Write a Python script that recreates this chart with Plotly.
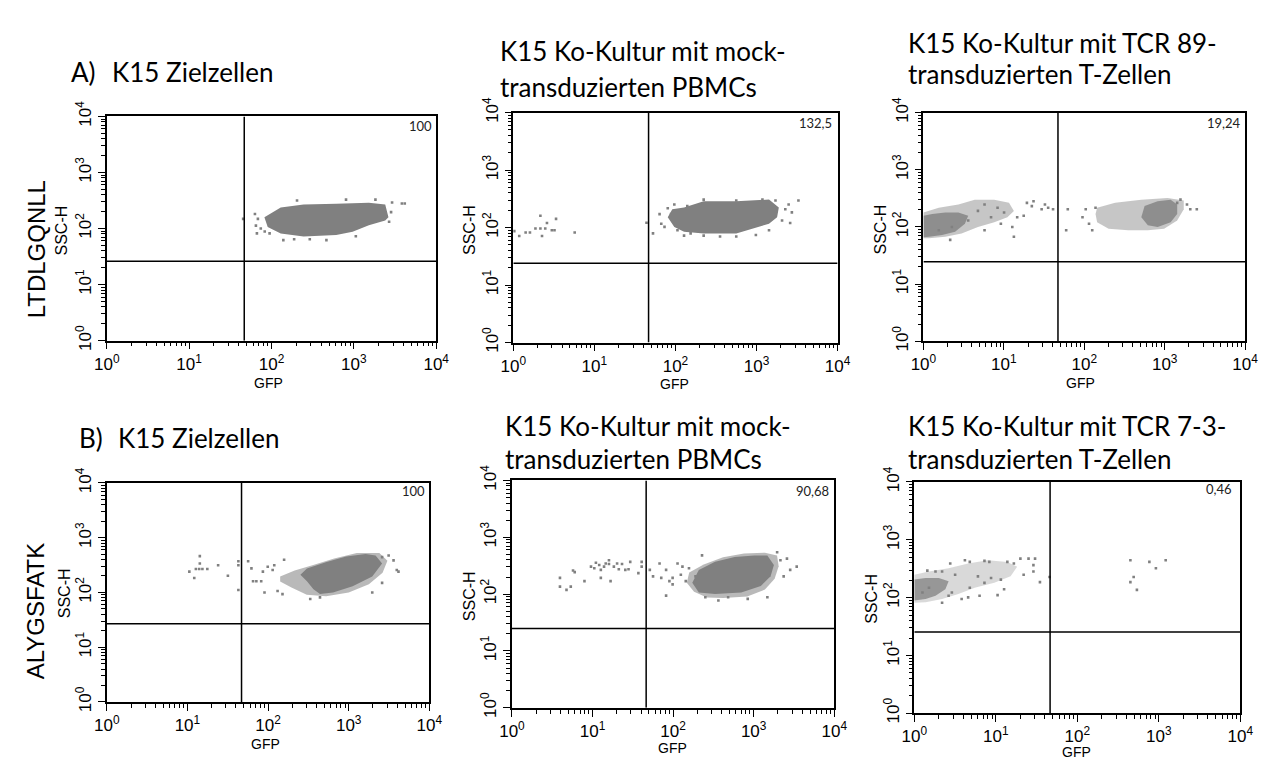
import plotly.graph_objects as go

W, H = 1279, 769

# ---------------- data (log10 of GFP and SSC-H values) ----------------
# Panel 1: LTDLGQNLL, K15 Zielzellen
p1_core_gfp = [2.112, 2.390, 2.786, 3.182, 3.381, 3.420, 3.381, 3.182, 2.985, 2.786, 2.390, 2.112, 1.954, 1.914]
p1_core_ssc = [2.374, 2.431, 2.443, 2.460, 2.431, 2.202, 2.143, 2.057, 1.943, 1.884, 1.857, 1.914, 2.029, 2.202]
p1_dot_gfp = [1.656, 1.799, 1.835, 1.811, 1.870, 1.823, 1.918, 1.977, 2.275, 2.465, 2.667, 2.144, 3.464, 3.583, 3.618, 3.452, 3.428, 2.310, 2.905, 3.262, 3.024]
p1_dot_ssc = [2.172, 2.259, 2.172, 2.052, 2.000, 1.914, 1.948, 1.914, 1.810, 1.810, 1.793, 1.793, 2.466, 2.448, 2.448, 2.293, 2.121, 2.500, 2.517, 2.517, 1.862]

# Panel 2: LTDLGQNLL, mock PBMCs
p2_core_gfp = [2.106, 2.348, 2.750, 3.154, 3.275, 3.254, 3.154, 2.750, 2.348, 2.106, 1.986, 1.905, 1.961]
p2_core_ssc = [2.348, 2.459, 2.459, 2.487, 2.348, 2.180, 2.067, 1.899, 1.899, 1.928, 2.012, 2.180, 2.319]
p2_dot_gfp = [0.012, 0.073, 0.152, 0.205, 0.273, 0.334, 0.415, 0.527, 0.334, 0.394, 0.354, 0.475, 0.508, 0.757,
              1.643, 1.723,
              1.804, 1.905, 1.825, 1.865, 1.946, 1.986, 2.025, 2.106, 2.187, 2.348, 2.550, 2.750, 2.992, 3.154,
              3.315, 3.355, 3.396, 3.436, 3.517, 3.415, 3.234, 3.073, 2.750, 2.348, 2.146]
p2_dot_ssc = [1.938, 1.854, 1.916, 1.916, 1.983, 2.207, 2.079, 2.151, 1.983, 1.983, 1.854, 1.955, 1.955, 1.916,
              2.084, 1.899,
              2.235, 2.336, 2.067, 2.012, 2.235, 2.403, 1.955, 1.860, 1.899, 1.860, 1.844, 1.844, 1.871, 1.955,
              2.123, 2.319, 2.403, 2.264, 2.471, 2.079, 2.471, 2.487, 2.471, 2.487, 2.375]

# Panel 3: LTDLGQNLL, TCR 89
p3_medl_gfp = [0.0, 0.191, 0.435, 0.638, 0.881, 1.064, 1.125, 1.044, 0.881, 0.678, 0.475, 0.272, 0.069, 0.0]
p3_medl_ssc = [2.253, 2.337, 2.394, 2.478, 2.478, 2.422, 2.281, 2.169, 2.084, 2.000, 1.887, 1.830, 1.802, 1.802]
p3_medr_gfp = [2.160, 2.384, 2.709, 3.034, 3.237, 3.237, 3.155, 2.993, 2.790, 2.546, 2.302, 2.160, 2.140]
p3_medr_ssc = [2.337, 2.422, 2.478, 2.506, 2.461, 2.309, 2.112, 1.971, 1.943, 1.943, 1.971, 2.084, 2.225]
p3_corel_gfp = [0.0, 0.110, 0.272, 0.435, 0.557, 0.516, 0.394, 0.232, 0.069, 0.0]
p3_corel_ssc = [2.197, 2.225, 2.253, 2.253, 2.197, 2.056, 1.915, 1.859, 1.830, 1.819]
p3_corer_gfp = [2.750, 2.912, 3.074, 3.155, 3.155, 3.074, 2.912, 2.790, 2.709]
p3_corer_ssc = [2.365, 2.450, 2.478, 2.394, 2.225, 2.084, 2.000, 2.028, 2.169]
p3_dot_gfp = [1.166, 1.247, 1.287, 1.348, 1.369, 1.470, 1.511, 1.551, 1.612, 1.105, 1.125, 0.760, 0.963, 0.333,
              0.760, 0.922, 1.003, 0.557, 0.841, 0.678, 0.354, 0.191,
              1.795, 1.775, 1.978, 2.018, 2.059, 2.140, 2.099, 3.277, 3.318, 3.399, 3.155, 3.196]
p3_dot_ssc = [2.169, 2.197, 2.422, 2.365, 2.450, 2.309, 2.394, 2.337, 2.309, 2.000, 1.830, 1.943, 2.056, 1.774,
              2.394, 2.337, 2.253, 2.112, 2.169, 2.281, 2.000, 1.943,
              2.309, 1.943, 2.169, 2.309, 2.056, 2.337, 1.943, 2.394, 2.309, 2.309, 2.422, 2.478]

# Panel 4: ALYGSFATK, K15 Zielzellen
p4_med_gfp = [2.150, 2.330, 2.560, 2.820, 3.100, 3.380, 3.480, 3.420, 3.250, 3.000, 2.720, 2.480, 2.290, 2.150]
p4_med_ssc = [2.290, 2.400, 2.500, 2.620, 2.720, 2.720, 2.580, 2.360, 2.150, 2.000, 1.930, 1.960, 2.090, 2.200]
p4_core_gfp = [2.482, 2.725, 2.968, 3.211, 3.333, 3.414, 3.292, 3.049, 2.806, 2.644, 2.563, 2.482, 2.401]
p4_core_ssc = [2.440, 2.557, 2.657, 2.704, 2.675, 2.528, 2.293, 2.116, 1.999, 1.970, 2.058, 2.205, 2.322]
p4_dot_gfp = [1.154, 1.154, 1.105, 1.146, 1.186, 1.247, 1.024, 1.085, 1.381, 1.502,
              1.632, 1.632, 1.632, 1.753, 1.794, 1.814, 1.855, 1.915, 1.936, 1.996,
              2.057, 2.077, 2.199, 1.956, 2.118, 2.179, 3.414, 3.495, 3.556, 3.596,
              3.414, 3.292, 2.523, 2.644, 3.617]
p4_dot_ssc = [2.663, 2.528, 2.428, 2.428, 2.428, 2.428, 2.381, 2.264, 2.498, 2.305,
              2.569, 2.498, 2.046, 2.569, 2.440, 2.205, 2.205, 2.205, 2.381, 2.469,
              2.410, 2.498, 2.598, 1.999, 2.028, 1.970, 2.645, 2.675, 2.586, 2.410,
              2.175, 1.999, 1.881, 1.911, 2.381]

# Panel 5: ALYGSFATK, mock PBMCs
p5_med_gfp = [2.200, 2.380, 2.620, 2.880, 3.140, 3.290, 3.310, 3.260, 3.140, 2.920, 2.620, 2.420, 2.260, 2.170]
p5_med_ssc = [2.380, 2.520, 2.650, 2.715, 2.730, 2.680, 2.490, 2.270, 2.080, 1.960, 1.930, 1.940, 2.040, 2.200]
p5_core_gfp = [2.319, 2.521, 2.764, 3.008, 3.170, 3.251, 3.210, 3.089, 2.846, 2.521, 2.319, 2.238]
p5_core_ssc = [2.426, 2.568, 2.653, 2.681, 2.681, 2.512, 2.313, 2.143, 2.030, 2.001, 2.030, 2.200]
p5_dot_gfp = [0.596, 0.596, 0.677, 0.730, 0.758, 0.779, 0.900, 0.981, 1.022, 1.042,
              1.083, 1.103, 1.103, 1.143, 1.164, 1.204, 1.204, 1.224, 1.265, 1.305,
              1.326, 1.366, 1.407, 1.447, 1.468, 1.569, 1.610, 1.610, 1.711, 1.751,
              1.832, 1.853, 1.913, 1.913, 1.954, 1.994, 1.994, 2.055, 2.096, 2.116,
              2.157, 2.197, 2.278, 2.359, 2.400, 2.562, 2.683, 2.926, 3.170, 3.332,
              3.413, 3.453, 3.534, 3.372, 3.291]
p5_dot_ssc = [2.285, 2.132, 2.075, 2.132, 2.415, 2.387, 2.228, 2.483, 2.455, 2.551,
              2.512, 2.426, 2.285, 2.483, 2.540, 2.596, 2.529, 2.228, 2.483, 2.540,
              2.438, 2.529, 2.426, 2.438, 2.568, 2.370, 2.568, 2.483, 2.426, 2.313,
              2.540, 2.285, 2.426, 1.973, 2.228, 2.171, 2.285, 2.540, 2.341, 2.483,
              2.228, 2.455, 2.313, 2.681, 1.945, 1.888, 1.945, 1.916, 1.945, 2.596,
              2.625, 2.426, 2.483, 2.313, 2.738]

# Panel 6: ALYGSFATK, TCR 7-3
p6_med_gfp = [0.0, 0.180, 0.421, 0.661, 0.901, 1.142, 1.262, 1.182, 0.982, 0.741, 0.541, 0.341, 0.140, 0.0]
p6_med_ssc = [2.395, 2.451, 2.507, 2.590, 2.646, 2.618, 2.535, 2.368, 2.256, 2.172, 2.061, 1.977, 1.922, 1.911]
p6_core_gfp = [0.0, 0.140, 0.300, 0.421, 0.381, 0.260, 0.140, 0.0]
p6_core_ssc = [2.312, 2.340, 2.340, 2.284, 2.145, 2.033, 1.977, 1.949]
p6_dot_gfp = [0.160, 0.260, 0.341, 0.441, 0.621, 0.681, 0.861, 0.921, 1.142, 1.222,
              1.302, 1.402, 1.482, 1.462, 1.462, 1.342, 1.542, 1.660, 1.102, 1.022,
              0.801, 0.661, 0.581, 0.341, 0.681, 0.861, 0.942, 1.062, 0.421, 0.461,
              0.501, 0.781, 0.180, 0.100,
              2.652, 2.885, 3.085, 2.965, 2.692, 2.652, 2.732]
p6_dot_ssc = [2.468, 2.451, 2.451, 2.590, 2.646, 2.618, 2.635, 2.618, 2.618, 2.590,
              2.674, 2.674, 2.674, 2.563, 2.451, 2.395, 2.268, 2.356, 2.145, 2.044,
              2.033, 2.005, 1.977, 1.911, 2.172, 2.256, 2.340, 2.312, 2.033, 2.089,
              2.395, 2.368, 2.172, 2.089,
              2.646, 2.618, 2.646, 2.507, 2.356, 2.268, 2.134]

# quadrant gates (GFP, SSC-H) and upper-right quadrant values
gate_gfp = [46.7, 46.6, 47.1, 46.9, 46.3, 46.4]
gate_ssc = [26.0, 23.9, 24.7, 26.9, 24.8, 25.4]
quad_labels = ["100", "132,5", "19,24", "100", "90,68", "0,46"]

tick_vals = [1, 10, 100, 1000, 10000]
tick_text = ["10<sup>0</sup>", "10<sup>1</sup>", "10<sup>2</sup>", "10<sup>3</sup>", "10<sup>4</sup>"]
row_labels = ["LTDLGQNLL", "ALYGSFATK"]

# ---------------- layout helpers ----------------
def PX(px):
    return px / W

def PY(py):
    return 1 - py / H

GRAY = "#808080"
panel_box = [(95.7, 432, 104, 336), (510.7, 841.7, 100, 338), (929.3, 1257.7, 100, 336.7),
             (95.7, 425, 483.3, 710), (509.3, 838.3, 480.7, 716), (920, 1252.7, 482.3, 721.7)]

panels = [
    dict(fills=[(p1_core_gfp, p1_core_ssc, GRAY)], dots=(p1_dot_gfp, p1_dot_ssc)),
    dict(fills=[(p2_core_gfp, p2_core_ssc, GRAY)], dots=(p2_dot_gfp, p2_dot_ssc)),
    dict(fills=[(p3_medl_gfp, p3_medl_ssc, "rgba(128,128,128,0.45)"),
                (p3_medr_gfp, p3_medr_ssc, "rgba(128,128,128,0.45)"),
                (p3_corel_gfp, p3_corel_ssc, "rgba(128,128,128,0.8)"),
                (p3_corer_gfp, p3_corer_ssc, "rgba(128,128,128,0.8)")],
         dots=(p3_dot_gfp, p3_dot_ssc)),
    dict(fills=[(p4_med_gfp, p4_med_ssc, "rgba(128,128,128,0.55)"),
                (p4_core_gfp, p4_core_ssc, GRAY)], dots=(p4_dot_gfp, p4_dot_ssc)),
    dict(fills=[(p5_med_gfp, p5_med_ssc, "rgba(128,128,128,0.55)"),
                (p5_core_gfp, p5_core_ssc, GRAY)], dots=(p5_dot_gfp, p5_dot_ssc)),
    dict(fills=[(p6_med_gfp, p6_med_ssc, "rgba(128,128,128,0.3)"),
                (p6_core_gfp, p6_core_ssc, "rgba(128,128,128,0.75)")], dots=(p6_dot_gfp, p6_dot_ssc)),
]

minor_vals = [k * 10 ** d for d in range(4) for k in range(2, 10)]
AXFONT = "Liberation Sans, Arial, sans-serif"
TFONT = "Lato, Open Sans, sans-serif"
TICKSIZE = 17

fig = go.Figure()
layout = {}
for i, (x0, x1, y0, y1) in enumerate(panel_box):
    n = i + 1
    xs = "" if n == 1 else str(n)
    xref, yref = "x" + xs, "y" + xs
    common = dict(type="log", range=[0, 4], showline=True, linecolor="black", linewidth=1.5,
                  mirror=True, ticks="outside", ticklen=7, tickwidth=1, tickcolor="black",
                  tickmode="array", tickvals=tick_vals, ticktext=tick_text,
                  tickfont=dict(family=AXFONT, size=TICKSIZE, color="black"),
                  showgrid=False, zeroline=False,
                  minor=dict(tickmode="array", tickvals=minor_vals, ticks="outside", ticklen=4,
                             tickwidth=1, tickcolor="black", showgrid=False))
    layout["xaxis" + xs] = dict(common, domain=[PX(x0), PX(x1)], anchor=yref)
    layout["yaxis" + xs] = dict(common, domain=[PY(y1), PY(y0)], anchor=xref, tickangle=-90)

    p = panels[i]
    for fx, fy, col in p["fills"]:
        fig.add_trace(go.Scatter(x=[10 ** v for v in fx], y=[10 ** v for v in fy], mode="lines",
                                 fill="toself", fillcolor=col, line=dict(width=0),
                                 hoverinfo="skip", showlegend=False, xaxis=xref, yaxis=yref))
    dx, dy = p["dots"]
    fig.add_trace(go.Scatter(x=[10 ** v for v in dx], y=[10 ** v for v in dy], mode="markers",
                             marker=dict(symbol="square", size=2.6, color=GRAY, line=dict(width=0)),
                             hoverinfo="skip", showlegend=False, xaxis=xref, yaxis=yref))
    fig.add_trace(go.Scatter(x=[gate_gfp[i], gate_gfp[i]], y=[1, 10000], mode="lines",
                             line=dict(color="black", width=1.5), hoverinfo="skip",
                             showlegend=False, xaxis=xref, yaxis=yref))
    fig.add_trace(go.Scatter(x=[1, 10000], y=[gate_ssc[i], gate_ssc[i]], mode="lines",
                             line=dict(color="black", width=1.5), hoverinfo="skip",
                             showlegend=False, xaxis=xref, yaxis=yref))

ann = []

def add_text(text, px, py, size, family, xanchor="center", angle=0, color="black"):
    ann.append(dict(text=text, x=PX(px), y=PY(py), xref="paper", yref="paper", showarrow=False,
                    xanchor=xanchor, yanchor="middle", textangle=angle,
                    font=dict(family=family, size=size, color=color)))

# quadrant values
quad_pos = [(430, 114), (838, 111), (1256, 110.5), (423, 491.5), (835, 492), (1246.7, 490)]
for lab, (qx, qy) in zip(quad_labels, quad_pos):
    add_text(lab, qx, qy, 13, TFONT, xanchor="right", color="#222222")

# axis titles
ssc_pos = [(50, 222), (466, 222), (886, 221), (52.5, 597), (466, 601), (876, 603)]
gfp_pos = [(261, 380), (675, 381), (1090, 380), (258, 753), (673, 758), (1086, 762)]
for (sx, sy), (gx, gy) in zip(ssc_pos, gfp_pos):
    add_text("SSC-H", sx, sy, 16, AXFONT, angle=-90)
    add_text("GFP", gx, gy, 14, AXFONT)

# row labels
add_text(row_labels[0], 24, 242, 24, AXFONT, angle=-90)
add_text(row_labels[1], 22.5, 616, 24, AXFONT, angle=-90)

# panel titles
add_text("A)", 57, 58, 26, TFONT, xanchor="left")
add_text("K15 Zielzellen", 99, 58, 26, TFONT, xanchor="left")
add_text("K15 Ko-Kultur mit mock-", 495, 36, 26, TFONT, xanchor="left")
add_text("transduzierten PBMCs", 495, 73, 26, TFONT, xanchor="left")
add_text("K15 Ko-Kultur mit TCR 89-", 912, 28, 26, TFONT, xanchor="left")
add_text("transduzierten T-Zellen", 912, 60, 26, TFONT, xanchor="left")
add_text("B)", 65, 437, 26, TFONT, xanchor="left")
add_text("K15 Zielzellen", 105, 437, 26, TFONT, xanchor="left")
add_text("K15 Ko-Kultur mit mock-", 500, 424, 26, TFONT, xanchor="left")
add_text("transduzierten PBMCs", 500, 458, 26, TFONT, xanchor="left")
add_text("K15 Ko-Kultur mit TCR 7-3-", 912, 424, 26, TFONT, xanchor="left")
add_text("transduzierten T-Zellen", 912, 458, 26, TFONT, xanchor="left")

fig.update_layout(**layout)
fig.update_layout(width=W, height=H, margin=dict(l=0, r=0, t=0, b=0),
                  font=dict(family=AXFONT, size=TICKSIZE, color="black"),
                  paper_bgcolor="white", plot_bgcolor="white", showlegend=False,
                  annotations=ann)

fig.write_html("out.html")
